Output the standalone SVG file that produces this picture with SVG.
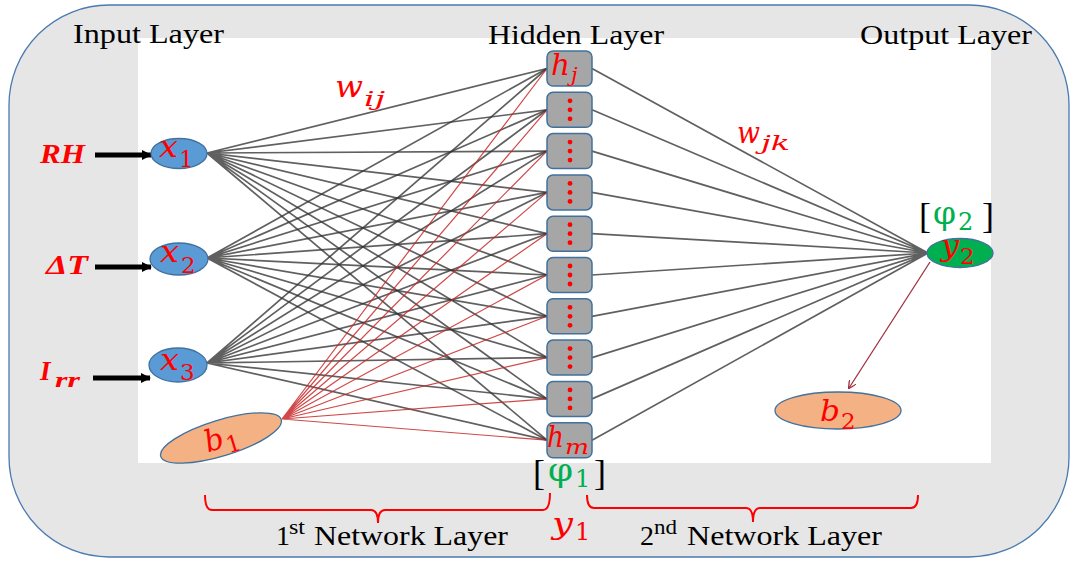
<svg xmlns="http://www.w3.org/2000/svg" width="1070" height="561" viewBox="0 0 1070 561">
<defs>
<style>
.lbl{font-family:"Liberation Serif","Times New Roman",serif;fill:#000;font-size:27px}
.m{font-family:"DejaVu Serif","Liberation Serif",serif;font-style:italic;fill:#ff0000;font-size:30px}
.s{font-family:"DejaVu Serif","Liberation Serif",serif;fill:#ff0000;font-size:23px}
.si{font-family:"DejaVu Serif","Liberation Serif",serif;font-style:italic;fill:#ff0000;font-size:21px}
.g{font-family:"DejaVu Serif","Liberation Serif",serif;fill:#00b050}
.bk{font-family:"Liberation Serif","Times New Roman",serif;fill:#000;font-size:36px}
.in{font-family:"Liberation Serif","Times New Roman",serif;font-style:italic;font-weight:bold;fill:#ff0000;font-size:27px}
.gl{stroke:#333333;stroke-opacity:0.78;stroke-width:1.7;fill:none}
.rl{stroke:#c82828;stroke-opacity:0.85;stroke-width:1.2;fill:none}
.node{fill:#5b9bd5;stroke:#41719c;stroke-width:1.3}
.bias{fill:#f4b183;stroke:#41719c;stroke-width:1.3}
.hid{fill:#a6a6a6;stroke:#41719c;stroke-width:1.5}
.dot{fill:#ff0000}
.brace{stroke:#ff0000;stroke-width:2;fill:none}
</style>
<marker id="ah" markerWidth="10" markerHeight="10" refX="9" refY="5" orient="auto" markerUnits="userSpaceOnUse">
<path d="M0,0 L10,5 L0,10 Z" fill="#000"/>
</marker>
<marker id="ahr" markerWidth="8" markerHeight="8" refX="7" refY="4" orient="auto" markerUnits="userSpaceOnUse">
<path d="M0,0 L8,4 L0,8" fill="none" stroke="#a03040" stroke-width="1.3"/>
</marker>
</defs>

<rect x="9" y="5" width="1060" height="552" rx="100" ry="100" fill="#e6e6e6" stroke="#4a7ab0" stroke-width="1.3"/>
<rect x="138" y="38" width="853" height="425" fill="#ffffff"/>

<text class="lbl" x="73" y="43" textLength="151" lengthAdjust="spacingAndGlyphs">Input Layer</text>
<text class="lbl" x="488" y="44" textLength="176" lengthAdjust="spacingAndGlyphs">Hidden Layer</text>
<text class="lbl" x="860" y="44" textLength="172" lengthAdjust="spacingAndGlyphs">Output Layer</text>

<g id="connectors">
<g class="gl">
<path d="M207,153 L547,68.5 M207,153 L547,109.8 M207,153 L547,151.1 M207,153 L547,192.4 M207,153 L547,233.7 M207,153 L547,275 M207,153 L547,316.3 M207,153 L547,357.6 M207,153 L547,398.9 M207,153 L547,440.2"/>
<path d="M207,258 L547,68.5 M207,258 L547,109.8 M207,258 L547,151.1 M207,258 L547,192.4 M207,258 L547,233.7 M207,258 L547,275 M207,258 L547,316.3 M207,258 L547,357.6 M207,258 L547,398.9 M207,258 L547,440.2"/>
<path d="M207,363 L547,68.5 M207,363 L547,109.8 M207,363 L547,151.1 M207,363 L547,192.4 M207,363 L547,233.7 M207,363 L547,275 M207,363 L547,316.3 M207,363 L547,357.6 M207,363 L547,398.9 M207,363 L547,440.2"/>
<path d="M592,68.5 L928,253 M592,109.8 L928,253 M592,151.1 L928,253 M592,192.4 L928,253 M592,233.7 L928,253 M592,275 L928,253 M592,316.3 L928,253 M592,357.6 L928,253 M592,398.9 L928,253 M592,440.2 L928,253"/>
</g>
<path class="rl" d="M282,419 L547,68.5 M282,419 L547,109.8 M282,419 L547,151.1 M282,419 L547,192.4 M282,419 L547,233.7 M282,419 L547,275 M282,419 L547,316.3 M282,419 L547,357.6 M282,419 L547,398.9 M282,419 L547,440.2"/>
<line x1="930" y1="262" x2="849" y2="388" stroke="#a03040" stroke-width="1.3" marker-end="url(#ahr)"/>
<line x1="95" y1="155" x2="151" y2="155" stroke="#000" stroke-width="5" marker-end="url(#ah)"/>
<line x1="95" y1="267" x2="151" y2="267" stroke="#000" stroke-width="5" marker-end="url(#ah)"/>
<line x1="93" y1="378" x2="150" y2="378" stroke="#000" stroke-width="5" marker-end="url(#ah)"/>
</g>

<g id="input-labels">
<text class="in" x="40" y="163" textLength="45" lengthAdjust="spacingAndGlyphs">RH</text>
<text class="in" x="46" y="274" textLength="42" lengthAdjust="spacingAndGlyphs">ΔT</text>
<text class="in" x="40" y="380">I</text>
<text class="in" x="55" y="387" style="font-size:21px" textLength="25" lengthAdjust="spacingAndGlyphs">rr</text>
</g>

<g id="node-x1">
<ellipse class="node" cx="179" cy="153.5" rx="28" ry="15"/>
<text class="m" x="159" y="157" textLength="19" lengthAdjust="spacingAndGlyphs">x</text>
<text class="s" x="179" y="167">1</text>
</g>
<g id="node-x2">
<ellipse class="node" cx="179" cy="259" rx="29" ry="16"/>
<text class="m" x="160" y="262" textLength="19" lengthAdjust="spacingAndGlyphs">x</text>
<text class="s" x="181" y="273">2</text>
</g>
<g id="node-x3">
<ellipse class="node" cx="178" cy="365" rx="29" ry="17"/>
<text class="m" x="160" y="370" textLength="19" lengthAdjust="spacingAndGlyphs">x</text>
<text class="s" x="180" y="380">3</text>
</g>

<g id="node-b1">
<ellipse class="bias" cx="221" cy="438" rx="63" ry="18" transform="rotate(-17 221 438)"/>
<g transform="rotate(-17 221 438)">
<text class="m" x="204" y="448" textLength="19" lengthAdjust="spacingAndGlyphs">b</text>
<text class="s" x="224" y="455">1</text>
</g>
</g>

<g id="node-h1">
<rect class="hid" x="547" y="51" width="45" height="35" rx="6"/>
<text class="m" x="551" y="75" textLength="19" lengthAdjust="spacingAndGlyphs">h</text>
<text class="si" x="571" y="82">j</text>
</g>
<g id="node-h2"><rect class="hid" x="547" y="92.3" width="45" height="35" rx="6"/><circle class="dot" cx="570" cy="100.8" r="2.4"/><circle class="dot" cx="570" cy="109.8" r="2.4"/><circle class="dot" cx="570" cy="118.8" r="2.4"/></g>
<g id="node-h3"><rect class="hid" x="547" y="133.6" width="45" height="35" rx="6"/><circle class="dot" cx="570" cy="142.1" r="2.4"/><circle class="dot" cx="570" cy="151.1" r="2.4"/><circle class="dot" cx="570" cy="160.1" r="2.4"/></g>
<g id="node-h4"><rect class="hid" x="547" y="174.9" width="45" height="35" rx="6"/><circle class="dot" cx="570" cy="183.4" r="2.4"/><circle class="dot" cx="570" cy="192.4" r="2.4"/><circle class="dot" cx="570" cy="201.4" r="2.4"/></g>
<g id="node-h5"><rect class="hid" x="547" y="216.2" width="45" height="35" rx="6"/><circle class="dot" cx="570" cy="224.7" r="2.4"/><circle class="dot" cx="570" cy="233.7" r="2.4"/><circle class="dot" cx="570" cy="242.7" r="2.4"/></g>
<g id="node-h6"><rect class="hid" x="547" y="257.5" width="45" height="35" rx="6"/><circle class="dot" cx="570" cy="266" r="2.4"/><circle class="dot" cx="570" cy="275" r="2.4"/><circle class="dot" cx="570" cy="284" r="2.4"/></g>
<g id="node-h7"><rect class="hid" x="547" y="298.8" width="45" height="35" rx="6"/><circle class="dot" cx="570" cy="307.3" r="2.4"/><circle class="dot" cx="570" cy="316.3" r="2.4"/><circle class="dot" cx="570" cy="325.3" r="2.4"/></g>
<g id="node-h8"><rect class="hid" x="547" y="340.1" width="45" height="35" rx="6"/><circle class="dot" cx="570" cy="348.6" r="2.4"/><circle class="dot" cx="570" cy="357.6" r="2.4"/><circle class="dot" cx="570" cy="366.6" r="2.4"/></g>
<g id="node-h9"><rect class="hid" x="547" y="381.4" width="45" height="35" rx="6"/><circle class="dot" cx="570" cy="389.9" r="2.4"/><circle class="dot" cx="570" cy="398.9" r="2.4"/><circle class="dot" cx="570" cy="407.9" r="2.4"/></g>
<g id="node-h10">
<rect class="hid" x="547" y="422.7" width="45" height="35" rx="6"/>
<text class="m" x="547" y="447" textLength="17" lengthAdjust="spacingAndGlyphs">h</text>
<text class="si" x="565" y="454" textLength="24" lengthAdjust="spacingAndGlyphs">m</text>
</g>

<g id="node-y2">
<ellipse cx="960" cy="253" rx="33" ry="14.5" fill="#00b050" stroke="#41719c" stroke-width="1.3"/>
<text class="m" x="941" y="256" textLength="18" lengthAdjust="spacingAndGlyphs">y</text>
<text class="s" x="960" y="264">2</text>
</g>
<g id="node-b2">
<ellipse class="bias" cx="838" cy="410.5" rx="63" ry="18.5"/>
<text class="m" x="820" y="421" textLength="20" lengthAdjust="spacingAndGlyphs">b</text>
<text class="s" x="841" y="429">2</text>
</g>

<g id="math-labels">
<text class="m" x="335" y="97" textLength="28" lengthAdjust="spacingAndGlyphs">w</text>
<text class="si" x="364" y="106" textLength="21" lengthAdjust="spacingAndGlyphs">ij</text>
<text class="m" x="737" y="143" textLength="23" lengthAdjust="spacingAndGlyphs">w</text>
<text class="si" x="761" y="150" textLength="29" lengthAdjust="spacingAndGlyphs">jk</text>
<text class="bk" x="533" y="485">[</text>
<text class="g" x="548" y="481" style="font-size:32px" textLength="25" lengthAdjust="spacingAndGlyphs">φ</text>
<text class="g" x="575" y="487" style="font-size:24px">1</text>
<text class="bk" x="594" y="485">]</text>
<text class="bk" x="919" y="228">[</text>
<text class="g" x="933" y="224" style="font-size:32px" textLength="23" lengthAdjust="spacingAndGlyphs">φ</text>
<text class="g" x="958" y="230" style="font-size:24px">2</text>
<text class="bk" x="982" y="228">]</text>
<text class="m" x="552" y="534" textLength="21" lengthAdjust="spacingAndGlyphs">y</text>
<text class="s" x="575" y="540" style="font-size:24px">1</text>
</g>

<g id="braces">
<path class="brace" d="M205,495 Q205,510 212,510 L371,510 Q378,510 378,523 Q378,510 385,510 L543,510 Q550,510 550,493"/>
<path class="brace" d="M587,495 Q587,508 594,508 L746,508 Q753,508 753,522 Q753,508 760,508 L911,508 Q918,508 918,495"/>
</g>

<g id="bottom-labels">
<text class="lbl" x="276" y="545" style="font-size:28px">1</text>
<text class="lbl" x="289" y="534" style="font-size:20px" textLength="16" lengthAdjust="spacingAndGlyphs">st</text>
<text class="lbl" x="314" y="545" textLength="194" lengthAdjust="spacingAndGlyphs">Network Layer</text>
<text class="lbl" x="640" y="545" style="font-size:28px">2</text>
<text class="lbl" x="654" y="534" style="font-size:20px" textLength="23" lengthAdjust="spacingAndGlyphs">nd</text>
<text class="lbl" x="687" y="545" textLength="195" lengthAdjust="spacingAndGlyphs">Network Layer</text>
</g>
</svg>
